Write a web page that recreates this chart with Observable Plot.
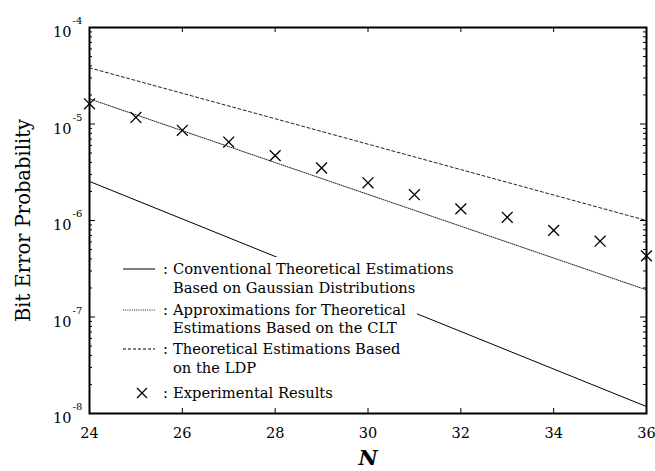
<!DOCTYPE html>
<html><head><meta charset="utf-8">
<script src="https://cdn.jsdelivr.net/npm/d3@7"></script>
<script src="https://cdn.jsdelivr.net/npm/@observablehq/plot@0.6"></script>
<style>body{margin:0;background:#fff} #chart{width:655px;height:471px}</style>
</head><body><div id="chart"></div>
<script>
// Data
const N = [24, 25, 26, 27, 28, 29, 30, 31, 32, 33, 34, 35, 36];
const experimental = [1.62e-5, 1.17e-5, 8.6e-6, 6.5e-6, 4.7e-6, 3.5e-6, 2.46e-6, 1.85e-6, 1.32e-6, 1.08e-6, 7.9e-7, 6.1e-7, 4.3e-7];
const lineN = [24, 36];
const gaussian = [2.54e-6, 1.18e-8];
const clt = [1.82e-5, 1.91e-7];
const ldp = [3.82e-5, 1.0e-6];
const xTicks = [24, 26, 28, 30, 32, 34, 36];
const yMajor = [1e-8, 1e-7, 1e-6, 1e-5, 1e-4];
const yMinor = [];
for (let e = -8; e < -4; e++) for (let m = 2; m <= 9; m++) yMinor.push(m * Math.pow(10, e));
const legendItems = [
  {type: "solid", lines: ["Conventional Theoretical Estimations", "Based on Gaussian Distributions"]},
  {type: "dotted", lines: ["Approximations for Theoretical", "Estimations Based on the CLT"]},
  {type: "dashed", lines: ["Theoretical Estimations Based", "on the LDP"]},
  {type: "cross", lines: ["Experimental Results"]}
];

const W = 655, H = 471, ML = 89, MR = 9, MT = 27, MB = 58;
const FW = W - ML - MR, FH = H - MT - MB;
const font = "'DejaVu Serif', serif";
const tbl = (ys) => lineN.map((n, i) => ({n, v: ys[i]}));
const inner = xTicks.slice(1, -1);

const svg = Plot.plot({
  width: W, height: H, marginLeft: ML, marginRight: MR, marginTop: MT, marginBottom: MB,
  style: {fontFamily: font, background: "white", overflow: "visible", color: "black"},
  x: {domain: [24, 36], axis: null},
  y: {type: "log", domain: [1e-8, 1e-4], axis: null},
  marks: [
    Plot.line(tbl(ldp), {x: "n", y: "v", stroke: "#222", strokeWidth: 1, strokeDasharray: "3,2.5"}),
    Plot.line(tbl(clt), {x: "n", y: "v", stroke: "#222", strokeWidth: 1, strokeDasharray: "1,1.2"}),
    Plot.line(tbl(gaussian), {x: "n", y: "v", stroke: "black", strokeWidth: 1}),
    Plot.dot(N.map((n, i) => ({n, v: experimental[i]})), {x: "n", y: "v", symbol: "times", r: 5, stroke: "black", strokeWidth: 1.3}),
    // ticks (inward)
    Plot.tickY(yMinor, {y: d => d, insetRight: FW - 3, stroke: "black"}),
    Plot.tickY(yMinor, {y: d => d, insetLeft: FW - 3, stroke: "black"}),
    Plot.tickY(yMajor, {y: d => d, insetRight: FW - 6, stroke: "black"}),
    Plot.tickY(yMajor, {y: d => d, insetLeft: FW - 6, stroke: "black"}),
    Plot.tickX(inner, {x: d => d, insetBottom: FH - 5, stroke: "black"}),
    Plot.tickX(inner, {x: d => d, insetTop: FH - 5, stroke: "black"}),
    Plot.frame({stroke: "black", strokeWidth: 2}),
    // tick labels
    Plot.text(xTicks, {x: d => d, text: d => String(d), frameAnchor: "bottom", dy: 20, fontSize: 14.5, lineAnchor: "middle"}),
    Plot.text(yMajor, {y: d => d, text: () => "10", frameAnchor: "left", dx: -18, dy: 5, textAnchor: "end", fontSize: 14.5, lineAnchor: "middle"}),
    Plot.text(yMajor, {y: d => d, text: d => String(Math.round(Math.log10(d))), frameAnchor: "left", dx: -17, dy: -6.5, textAnchor: "start", fontSize: 10, lineAnchor: "middle"}),
    // axis titles
    Plot.text(["Bit Error Probability"], {text: d => d, frameAnchor: "left", dx: -66, rotate: -90, fontSize: 19.5, textAnchor: "middle", lineAnchor: "middle"}),
    Plot.text(["N"], {text: d => d, frameAnchor: "bottom", dy: 45, fontSize: 21, fontWeight: "bold", fontStyle: "italic", lineAnchor: "middle"})
  ]
});
document.getElementById("chart").appendChild(svg);

// Legend inside the plot area
const g = d3.select(svg).append("g").attr("font-family", font).attr("font-size", 14.7)
  .attr("fill", "black").attr("text-anchor", "start");
g.append("rect").attr("x", 115).attr("y", 257).attr("width", 302).attr("height", 146).attr("fill", "white");
const rowY = [[269, 288], [310, 328], [349, 368], [393]];
legendItems.forEach((item, i) => {
  const y0 = rowY[i][0];
  if (item.type === "cross") {
    const r = 5;
    g.append("path").attr("d", `M${142 - r},${y0 - r}L${142 + r},${y0 + r}M${142 - r},${y0 + r}L${142 + r},${y0 - r}`)
      .attr("stroke", "black").attr("stroke-width", 1.3).attr("fill", "none");
  } else {
    g.append("line").attr("x1", 123).attr("x2", 155).attr("y1", y0).attr("y2", y0)
      .attr("stroke", item.type === "dotted" ? "#222" : "black").attr("stroke-width", 1)
      .attr("stroke-dasharray", item.type === "dotted" ? "1,1.2" : item.type === "dashed" ? "3,2" : null);
  }
  g.append("text").attr("x", 163).attr("y", y0).attr("dy", "0.35em").text(":");
  item.lines.forEach((t, j) => {
    g.append("text").attr("x", 173).attr("y", rowY[i][j]).attr("dy", "0.35em").text(t);
  });
});
</script></body></html>
